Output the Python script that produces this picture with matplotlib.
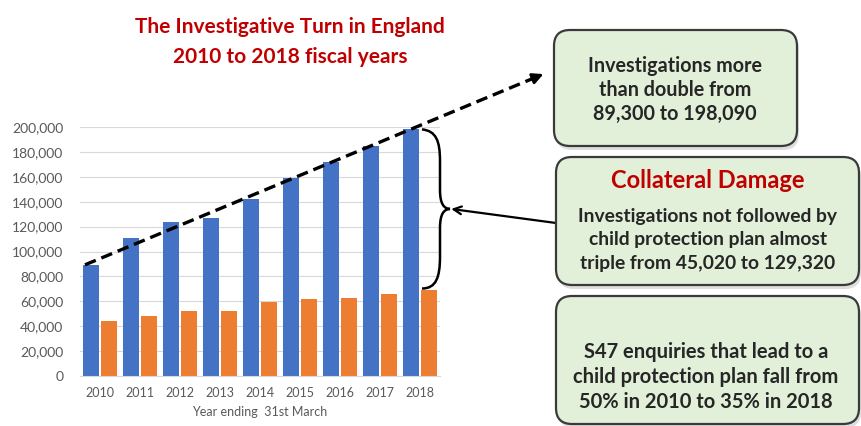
import matplotlib
matplotlib.use("Agg")
import matplotlib.pyplot as plt
import numpy as np
from matplotlib.patches import FancyBboxPatch, PathPatch
from matplotlib.path import Path
from matplotlib.lines import Line2D

plt.rcParams['font.family'] = ['Lato', 'DejaVu Sans']

years = ['2010', '2011', '2012', '2013', '2014', '2015', '2016', '2017', '2018']
investigations = [89300, 111000, 124000, 126800, 142500, 159000, 171500, 185000, 198090]
cp_plans = [44280, 48400, 52000, 52500, 59700, 62000, 62600, 66000, 68770]
yticks = [0, 20000, 40000, 60000, 80000, 100000, 120000, 140000, 160000, 180000, 200000]

title_lines = ["The Investigative Turn in England", "2010 to 2018 fiscal years"]
box1_text = "Investigations more\nthan double from\n89,300 to 198,090"
box2_head = "Collateral Damage"
box2_text = "Investigations not followed by\nchild protection plan almost\ntriple from 45,020 to 129,320"
box3_text = "S47 enquiries that lead to a\nchild protection plan fall from\n50% in 2010 to 35% in 2018"
xlabel = "Year ending  31st March"

W, H = 862, 426
fig = plt.figure(figsize=(W / 100, H / 100), dpi=100)

def fx(px):
    return px / W

def fy(py):
    return 1 - py / H

ax = fig.add_axes([fx(80), fy(376), fx(440) - fx(80), fy(127) - fy(376)])
x = np.arange(len(years))
bw = 0.38
off = 0.225
blue = '#4472c4'
orange = '#ed7d31'
ax.bar(x - off, investigations, bw, color=blue, zorder=2)
ax.bar(x + off, cp_plans, bw, color=orange, zorder=2)
ax.set_xlim(-0.5, 8.5)
ax.set_ylim(0, 200000)
ax.set_yticks(yticks)
ax.set_yticklabels([f"{v:,}" for v in yticks])
ax.set_xticks(x)
ax.set_xticklabels(years)
ax.grid(axis='y', color='#d9d9d9', lw=0.8, zorder=0)
for s in ['top', 'right', 'left']:
    ax.spines[s].set_visible(False)
ax.spines['bottom'].set_color('#d9d9d9')
ax.tick_params(axis='both', length=0, colors='#595959')
ax.tick_params(axis='y', labelsize=10, pad=12)
ax.tick_params(axis='x', labelsize=9, pad=8)
ax.set_xlabel(xlabel, fontsize=9, color='#595959', labelpad=5)

# dashed trend line from 2010 bar top to the first box
disp0 = ax.transData.transform((x[0] - off - 0.15, investigations[0]))
x0f, y0f = fig.transFigure.inverted().transform(disp0)
x1f, y1f = fx(546), fy(73)
fig.add_artist(Line2D([x0f, x1f - 0.012], [y0f, y1f - 0.012 * (y1f - y0f) / (x1f - x0f)],
                      transform=fig.transFigure, color='black', lw=2.4,
                      linestyle=(0, (3.5, 1.8)), zorder=5))
ax.annotate('', xy=(x1f, y1f), xycoords='figure fraction',
            xytext=(x1f - 0.02, y1f - 0.02 * (y1f - y0f) / (x1f - x0f)),
            textcoords='figure fraction',
            arrowprops=dict(arrowstyle='-|>', color='black', lw=2, mutation_scale=16),
            annotation_clip=False)

# curly brace between 2018 bars
top = investigations[-1]
bot = cp_plans[-1] + 1500
mid = (top + bot) / 2
xs = x[-1] + 0.05
xb = x[-1] + 0.5
xt = x[-1] + 0.75
dy = (top - bot)
verts = [
    (xs, top),
    (xs + 0.35, top - dy * 0.01), (xb, top - dy * 0.07), (xb, top - dy * 0.2),
    (xb, mid + dy * 0.12),
    (xb, mid + dy * 0.03), (xb + 0.1, mid + 0.002 * dy), (xt, mid),
    (xb + 0.1, mid - 0.002 * dy), (xb, mid - dy * 0.03), (xb, mid - dy * 0.12),
    (xb, bot + dy * 0.2),
    (xb, bot + dy * 0.07), (xs + 0.35, bot), (xs, bot),
]
codes = [Path.MOVETO,
         Path.CURVE4, Path.CURVE4, Path.CURVE4,
         Path.LINETO,
         Path.CURVE4, Path.CURVE4, Path.CURVE4,
         Path.CURVE4, Path.CURVE4, Path.CURVE4,
         Path.LINETO,
         Path.CURVE4, Path.CURVE4, Path.CURVE4]
ax.add_patch(PathPatch(Path(verts, codes), fill=False, lw=1.8, color='black',
                       clip_on=False, zorder=5))

# arrow from box 2 to the brace
ax.annotate('', xy=(xt + 0.03, mid), xycoords='data',
            xytext=(fx(556), fy(223)), textcoords='figure fraction',
            arrowprops=dict(arrowstyle='->', color='black', lw=1.6, mutation_scale=14,
                            shrinkA=0, shrinkB=0),
            annotation_clip=False)

# title
fig.text(fx(290), fy(27), title_lines[0], ha='center', va='center', fontsize=15,
         fontweight='bold', color='#c00000')
fig.text(fx(290), fy(57), title_lines[1], ha='center', va='center', fontsize=15,
         fontweight='bold', color='#c00000')

# boxes
def add_box(l, t, r, b):
    rs = 16
    shadow = FancyBboxPatch((l + 2, H - b - 4), r - l, b - t,
                            boxstyle=f'round,pad=0,rounding_size={rs}',
                            transform=None, facecolor='#c8c8c8',
                            edgecolor='none', alpha=0.6, zorder=1)
    box = FancyBboxPatch((l, H - b), r - l, b - t,
                         boxstyle=f'round,pad=0,rounding_size={rs}',
                         transform=None, facecolor='#e2efd9',
                         edgecolor='#3a3a3a', lw=1.6, zorder=2)
    fig.add_artist(shadow)
    fig.add_artist(box)

add_box(554, 30, 797, 146)
add_box(556, 157, 859, 285)
add_box(556, 296, 859, 424)

fig.text(fx(675), fy(90), box1_text, ha='center', va='center', fontsize=14.2,
         fontweight='bold', color='#262626', linespacing=1.27, zorder=3)
fig.text(fx(708), fy(181), box2_head, ha='center', va='center', fontsize=17,
         fontweight='bold', color='#c00000', zorder=3)
fig.text(fx(708), fy(240), box2_text, ha='center', va='center', fontsize=13.9,
         fontweight='bold', color='#262626', linespacing=1.45, zorder=3)
fig.text(fx(706), fy(377), box3_text, ha='center', va='center', fontsize=14.5,
         fontweight='bold', color='#262626', linespacing=1.29, zorder=3)

fig.savefig('out.png', dpi=100)
